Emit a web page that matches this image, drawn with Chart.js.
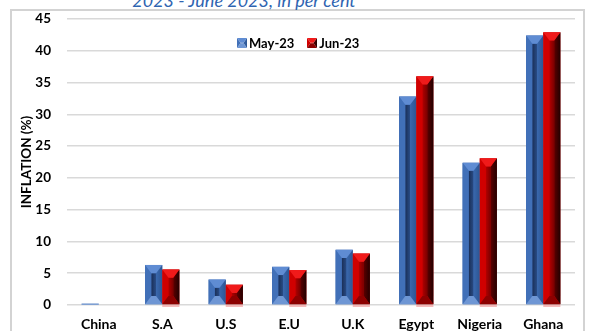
<!DOCTYPE html>
<html>
<head>
<meta charset="utf-8">
<script src="https://cdn.jsdelivr.net/npm/chart.js@4.4.0/dist/chart.umd.min.js"></script>
<style>
  html, body { margin: 0; padding: 0; background: #fff; }
  #wrap { position: relative; width: 590px; height: 331px; overflow: hidden; font-family: Lato, "Open Sans", sans-serif; }
  #frame { position: absolute; left: 10px; top: 9px; width: 575px; height: 340px; border: 2px solid #d3d3d3; box-sizing: border-box; }
  #heading { position: absolute; left: 0; width: 488px; top: -11px; text-align: center; font-style: italic; font-size: 18px; color: #2f64b1; white-space: nowrap; }
  #legend { position: absolute; left: 237px; top: 35px; display: flex; align-items: center; font-weight: bold; font-size: 13px; color: #000; }
  #legend span { display: flex; align-items: center; margin-right: 13px; }
  #legend canvas { margin-right: 2px; }
  #chart { position: absolute; left: 0; top: 0; }
</style>
</head>
<body>
<div id="wrap">
  <div id="frame"></div>
  <div id="heading">2023 - June 2023, in per cent</div>
  <canvas id="chart" width="590" height="331"></canvas>
  <div id="legend"></div>
</div>
<script>
// inflation, per cent
const categories = ['China', 'S.A', 'U.S', 'E.U', 'U.K', 'Egypt', 'Nigeria', 'Ghana'];
const may23 = [0.2, 6.3, 4.0, 6.0, 8.7, 32.8, 22.4, 42.4];
const jun23 = [0.0, 5.6, 3.2, 5.5, 8.1, 36.0, 23.1, 42.9];
const seriesNames = ['May-23', 'Jun-23'];
const yTicks = [0, 5, 10, 15, 20, 25, 30, 35, 40, 45];

// facet colours for the bevelled bars
const shades = [
  { base: '#3a66ad', left: '#4170b8', top: '#5f8cd3', front: ['#1a2f57', '#294c86'], right: ['#3a68ad', '#2c5593'], bottom: '#6e96d4' },
  { base: '#c00000', left: '#d00000', top: '#f01a1a', front: ['#b20000', '#7a0000'], right: ['#5c0000', '#220000'], bottom: '#8c0000' }
];

function poly(ctx, pts, fill) {
  ctx.beginPath();
  ctx.moveTo(pts[0][0], pts[0][1]);
  for (let i = 1; i < pts.length; i++) ctx.lineTo(pts[i][0], pts[i][1]);
  ctx.closePath();
  ctx.fillStyle = fill;
  ctx.fill();
}

function hGrad(ctx, x0, x1, c) {
  const g = ctx.createLinearGradient(x0, 0, x1, 0);
  g.addColorStop(0, c[0]);
  g.addColorStop(1, c[1]);
  return g;
}

function drawBevel(ctx, L, R, T, B, s) {
  const w = R - L, h = B - T;
  if (h < 0.5) return;
  if (h < 2) {
    ctx.fillStyle = s.bottom;
    ctx.fillRect(L, T, w, Math.max(h, 1));
    return;
  }
  const bx = w * 0.36;
  const by = Math.min(w * 0.48, h / 2);
  poly(ctx, [[L + bx, T + by], [R - bx, T + by], [R - bx, B - by], [L + bx, B - by]], hGrad(ctx, L + bx, R - bx, s.front));
  poly(ctx, [[L, T], [L + bx, T + by], [L + bx, B - by], [L, B]], s.left);
  poly(ctx, [[R, T], [R - bx, T + by], [R - bx, B - by], [R, B]], hGrad(ctx, R - bx, R, s.right));
  poly(ctx, [[L, T], [R, T], [R - bx, T + by], [L + bx, T + by]], s.top);
  poly(ctx, [[L, B], [R, B], [R - bx, B - by], [L + bx, B - by]], s.bottom);
}

// repaint every bar element with bevel facets
const bevelBars = {
  id: 'bevelBars',
  afterDatasetsDraw(chart) {
    const ctx = chart.ctx;
    ctx.save();
    chart.data.datasets.forEach((ds, i) => {
      const meta = chart.getDatasetMeta(i);
      meta.data.forEach(bar => {
        const p = bar.getProps(['x', 'y', 'base', 'width'], true);
        const L = p.x - p.width / 2, R = p.x + p.width / 2;
        drawBevel(ctx, L, R, Math.min(p.y, p.base), Math.max(p.y, p.base), shades[i]);
        if (i === 1 && p.base - p.y > 2) {
          ctx.fillStyle = '#f2a6a6';
          ctx.fillRect(L, p.base + 1, p.width, 1.5);
        }
      });
    });
    ctx.restore();
  }
};

const ctx = document.getElementById('chart').getContext('2d');
const chart = new Chart(ctx, {
  type: 'bar',
  data: {
    labels: categories,
    datasets: [
      { label: seriesNames[0], data: may23, backgroundColor: shades[0].base },
      { label: seriesNames[1], data: jun23, backgroundColor: shades[1].base }
    ]
  },
  options: {
    responsive: false,
    animation: false,
    layout: { padding: { top: 19, right: 15, left: 0, bottom: 0 } },
    datasets: { bar: { categoryPercentage: 0.54, barPercentage: 1.0 } },
    plugins: { legend: { display: false }, tooltip: { enabled: false } },
    scales: {
      x: {
        grid: { display: false },
        border: { display: false },
        ticks: { color: '#000', padding: 3, font: { family: 'Lato', size: 14, weight: 'bold' } },
        afterFit(scale) { scale.height = 26; }
      },
      y: {
        min: 0,
        max: 45,
        // invisible tick marks push the labels left without adding top padding
        grid: { color: '#d9d9d9', lineWidth: 1.5, drawTicks: true, tickLength: 16, tickColor: 'rgba(0,0,0,0)' },
        border: { display: false },
        afterBuildTicks(scale) { scale.ticks = yTicks.map(v => ({ value: v })); },
        ticks: { color: '#000', padding: 0, font: { family: 'Lato', size: 13.5, weight: 'bold' } },
        title: {
          display: true,
          text: 'INFLATION (%)',
          color: '#000',
          padding: { top: 19, bottom: 0 },
          font: { family: 'Lato', size: 13.5, weight: 'bold' }
        },
        afterFit(scale) { scale.width = 67; }
      }
    }
  },
  plugins: [bevelBars]
});

// legend built from the datasets, with small bevelled swatches
const legend = document.getElementById('legend');
chart.data.datasets.forEach((ds, i) => {
  const item = document.createElement('span');
  const sw = document.createElement('canvas');
  sw.width = 10; sw.height = 10;
  drawBevel(sw.getContext('2d'), 0, 10, 0, 10, shades[i]);
  item.appendChild(sw);
  item.appendChild(document.createTextNode(ds.label));
  legend.appendChild(item);
});
</script>
</body>
</html>
